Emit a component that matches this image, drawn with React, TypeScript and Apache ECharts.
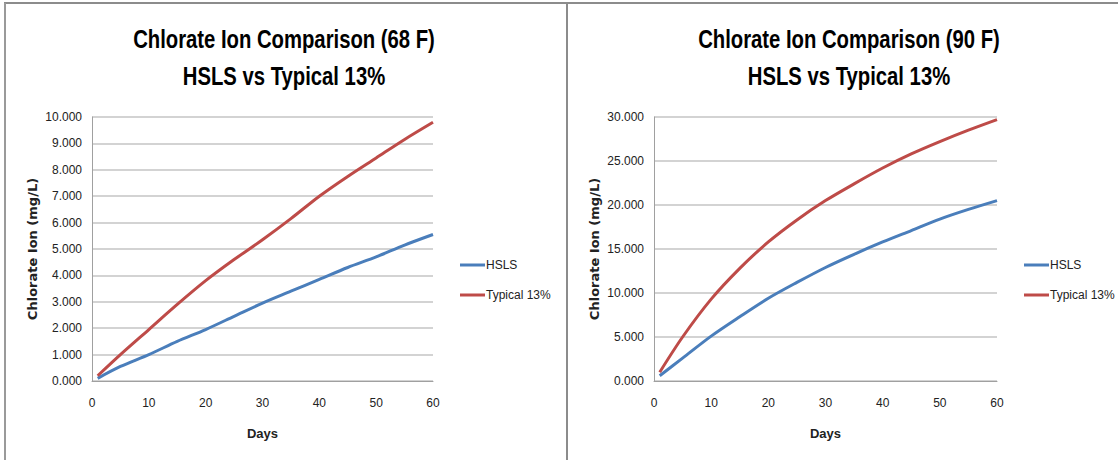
import React, { useEffect, useRef } from "react";
import * as echarts from "echarts";

const days = [1, 5, 10, 15, 20, 25, 30, 35, 40, 45, 50, 55, 60];
const hsls68 = [0.1, 0.55, 1.0, 1.5, 1.95, 2.45, 2.95, 3.4, 3.85, 4.3, 4.7, 5.15, 5.55];
const typical68 = [0.2, 1.0, 1.95, 2.9, 3.8, 4.6, 5.35, 6.15, 7.0, 7.75, 8.45, 9.15, 9.8];
const hsls90 = [0.6, 2.6, 5.1, 7.3, 9.4, 11.2, 12.9, 14.4, 15.8, 17.1, 18.4, 19.5, 20.5];
const typical90 = [1.0, 5.0, 9.3, 12.8, 15.8, 18.3, 20.5, 22.4, 24.2, 25.8, 27.2, 28.5, 29.7];
const titleLine1 = ["Chlorate Ion Comparison (68 F)", "Chlorate Ion Comparison (90 F)"];
const titleLine2 = ["HSLS vs Typical 13%", "HSLS vs Typical 13%"];
const seriesNames = ["HSLS", "Typical 13%"];
const yMax = [10, 30];
const yStep = [1, 5];

const BLUE = "#4a7ebb";
const RED = "#be4b48";
const SANS = "'Liberation Sans', Arial, sans-serif";

export default function App() {
  const ref = useRef<HTMLDivElement>(null);
  useEffect(() => {
    document.body.style.margin = "0";
    const chart = echarts.init(ref.current!, undefined, { renderer: "svg" });
    const grids = [
      { left: 92, top: 117, width: 341, height: 264 },
      { left: 654, top: 117, width: 343, height: 264 },
    ];
    const titleX = [284, 849];
    const pair = (xs: number[], ys: number[]) => xs.map((d, i) => [d, ys[i]]);
    const mk = (gi: number, name: string, data: number[][], color: string) => ({
      type: "line",
      name,
      xAxisIndex: gi,
      yAxisIndex: gi,
      data,
      showSymbol: false,
      smooth: 0.3,
      lineStyle: { color, width: 3 },
      itemStyle: { color },
    });
    const titleText = (x: number, y: number, text: string) => ({
      type: "text",
      x,
      y,
      scaleX: 0.78,
      style: {
        text,
        fontFamily: SANS,
        fontWeight: "bold",
        fontSize: 26,
        fill: "#000",
        textAlign: "center",
        textVerticalAlign: "middle",
      },
    });
    const option: any = {
      animation: false,
      backgroundColor: "#ffffff",
      legend: [0, 1].map((i) => ({
        orient: "vertical",
        left: i === 0 ? 460 : 1024,
        top: 259,
        padding: 0,
        itemWidth: 25,
        itemHeight: 3,
        itemGap: 18,
        icon: "rect",
        data: seriesNames.map((n) => ({ name: n })),
        seriesIndex: [i * 2, i * 2 + 1],
        textStyle: { fontFamily: SANS, fontSize: 12, color: "#222", padding: [0, 0, 0, -4] },
      })),
      grid: grids,
      xAxis: [0, 1].map((i) => ({
        type: "value",
        gridIndex: i,
        min: 0,
        max: 60,
        interval: 10,
        name: "Days",
        nameLocation: "middle",
        nameGap: 46,
        nameTextStyle: { fontFamily: SANS, fontWeight: "bold", fontSize: 13, color: "#222" },
        axisLine: { show: true, lineStyle: { color: "#a0a0a0", width: 1 } },
        axisTick: { show: false },
        splitLine: { show: false },
        axisLabel: { fontFamily: SANS, fontSize: 12, color: "#222", margin: 16 },
      })),
      yAxis: [0, 1].map((i) => ({
        type: "value",
        gridIndex: i,
        min: 0,
        max: yMax[i],
        interval: yStep[i],
        name: "Chlorate Ion (mg/L)",
        nameLocation: "middle",
        nameGap: 53,
        nameTextStyle: { fontFamily: "'DejaVu Sans', sans-serif", fontWeight: "bold", fontSize: 13, color: "#222" },
        axisLine: { show: true, lineStyle: { color: "#a0a0a0", width: 1 } },
        axisTick: { show: false },
        splitLine: { show: true, lineStyle: { color: "#c4c4c4", width: 1.5 } },
        axisLabel: {
          fontFamily: SANS,
          fontSize: 12,
          color: "#222",
          margin: 10,
          formatter: (v: number) => v.toFixed(3),
        },
      })),
      series: [
        mk(0, seriesNames[0], pair(days, hsls68), BLUE),
        mk(0, seriesNames[1], pair(days, typical68), RED),
        mk(1, seriesNames[0], pair(days, hsls90), BLUE),
        mk(1, seriesNames[1], pair(days, typical90), RED),
      ],
      graphic: [
        { type: "line", shape: { x1: 4, y1: 3, x2: 1118, y2: 3 }, style: { stroke: "#8c8c8c", lineWidth: 2 } },
        { type: "line", shape: { x1: 5, y1: 3, x2: 5, y2: 460 }, style: { stroke: "#9a9a9a", lineWidth: 2 } },
        { type: "line", shape: { x1: 567, y1: 3, x2: 567, y2: 460 }, style: { stroke: "#8c8c8c", lineWidth: 2 } },
        titleText(titleX[0], 39, titleLine1[0]),
        titleText(titleX[0], 76, titleLine2[0]),
        titleText(titleX[1], 39, titleLine1[1]),
        titleText(titleX[1], 76, titleLine2[1]),
      ],
    };
    chart.setOption(option);
    return () => chart.dispose();
  }, []);
  return <div ref={ref} style={{ position: "absolute", left: 0, top: 0, width: 1118, height: 460 }} />;
}
